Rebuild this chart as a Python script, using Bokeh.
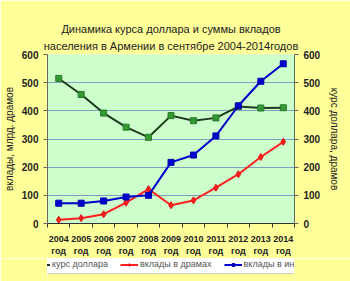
from bokeh.plotting import figure
from bokeh.layouts import column
from bokeh.models import (LinearAxis, Range1d, FixedTicker, Legend, LegendItem, Title)
from bokeh.embed import file_html
from bokeh.resources import INLINE

years = [2004, 2005, 2006, 2007, 2008, 2009, 2010, 2011, 2012, 2013, 2014]
usd_rate = [515, 458, 392, 342, 306, 383, 365, 375, 415, 410, 411]
dep_amd = [13, 19, 33, 74, 122, 65, 82, 127, 175, 236, 290]
dep_fx = [72, 72, 80, 94, 100, 217, 243, 311, 418, 505, 567]
y_ticks = [0, 100, 200, 300, 400, 500, 600]
series_names = ["курс доллара", "вклады в драмах", "вклады в инвалюте"]
title_lines = ["Динамика курса доллара и суммы вкладов",
               "населения в Армении в сентябре 2004-2014годов"]

FONT = "Liberation Sans"
YELLOW = "#FFFF99"
GREEN_BG = "#CCFFCC"
C_RATE_LINE, C_RATE_MK = "#1E3A1E", "#339933"
C_AMD = "#FF2020"
C_FX = "#0000CC"

p = figure(width=350, height=258, output_backend="svg", toolbar_location=None,
           x_range=Range1d(2003.5, 2014.5), y_range=Range1d(0, 600),
           min_border_left=47, min_border_right=56, min_border_top=54, min_border_bottom=35,
           background_fill_color=GREEN_BG, border_fill_color=YELLOW)
p.outline_line_color = None
p.title = None

# empty spacer axis between frame and titles
spacer = LinearAxis(ticker=FixedTicker(ticks=[]), axis_line_color=None,
                    major_tick_line_color=None, minor_tick_line_color=None,
                    major_tick_out=14, major_tick_in=0, minor_tick_out=0, minor_tick_in=0,
                    major_label_standoff=0, major_label_text_color=None)
p.add_layout(spacer, "above")
t2 = Title(text=title_lines[1], align="center", text_font=FONT, text_font_size="11px",
           text_color="#222222", text_font_style="normal", standoff=6)
t1 = Title(text=title_lines[0], align="center", text_font=FONT, text_font_size="11px",
           text_color="#222222", text_font_style="normal", standoff=0)
p.add_layout(t2, "above")
p.add_layout(t1, "above")

p.extra_y_ranges = {"rate": Range1d(0, 600)}

def draw(fig, mk_size):
    rn = "rate" if fig is p else "default"
    a = fig.line(years, usd_rate, y_range_name=rn, color=C_RATE_LINE, line_width=2)
    b = fig.scatter(years, usd_rate, y_range_name=rn, marker="square", size=mk_size,
                    fill_color=C_RATE_MK, line_color="#2A7A2A")
    c = fig.line(years, dep_amd, color=C_AMD, line_width=2)
    d = fig.scatter(years, dep_amd, marker="diamond", size=mk_size + 1, fill_color=C_AMD,
                    line_color="#E01010")
    e = fig.line(years, dep_fx, color=C_FX, line_width=2)
    f = fig.scatter(years, dep_fx, marker="square", size=mk_size, fill_color=C_FX,
                    line_color="#0000AA")
    return [(a, b), (c, d), (e, f)]

draw(p, 6)

# bottom x axis
xa = p.below[0]
xa.ticker = FixedTicker(ticks=years, minor_ticks=[y + 0.5 for y in [2003] + years])
xa.major_label_overrides = {y: f"{y}\nгод" for y in years}
xa.major_tick_out = 0
xa.major_tick_in = 0
xa.minor_tick_out = 4
xa.minor_tick_in = 0
xa.axis_line_color = "#333333"
xa.minor_tick_line_color = "#333333"
xa.major_label_text_font = FONT
xa.major_label_text_font_size = "9px"
xa.major_label_text_font_style = "bold"
xa.major_label_text_color = "#222222"
xa.major_label_standoff = 6

def style_y(ax, label, standoff):
    ax.ticker = FixedTicker(ticks=y_ticks)
    ax.minor_tick_line_color = None
    ax.major_tick_out = 4
    ax.major_tick_in = 0
    ax.axis_line_color = "#666666"
    ax.major_tick_line_color = "#666666"
    ax.axis_label = label
    ax.axis_label_text_font = FONT
    ax.axis_label_text_font_size = "10px"
    ax.axis_label_text_font_style = "normal"
    ax.axis_label_text_color = "#222222"
    ax.axis_label_standoff = standoff
    ax.major_label_text_font = FONT
    ax.major_label_text_font_size = "10px"
    ax.major_label_text_font_style = "bold"
    ax.major_label_text_color = "#222222"

style_y(p.left[0], "вклады, млрд. драмов", 4)
ra = LinearAxis(y_range_name="rate")
style_y(ra, "курс доллара, драмов", 6)
p.add_layout(ra, "right")

p.xgrid.grid_line_color = None
p.ygrid.ticker = FixedTicker(ticks=y_ticks)
p.ygrid.grid_line_color = "#7F9FBF"
p.ygrid.grid_line_width = 1

# legend strip: same series drawn outside its visible range, legend only
lg = figure(width=350, height=23, output_backend="svg", toolbar_location=None,
            x_range=Range1d(0, 1), y_range=Range1d(0, 1),
            x_axis_location=None, y_axis_location=None,
            min_border_left=47, min_border_right=56, min_border_top=0, min_border_bottom=0,
            background_fill_color=YELLOW, border_fill_color=YELLOW)
lg.outline_line_color = None
lg.grid.visible = False
proxies = draw(lg, 5)

legend = Legend(items=[
    LegendItem(label=series_names[i], renderers=list(proxies[i])) for i in range(3)
], orientation="horizontal", location=(-20, 7))
legend.label_text_font = FONT
legend.label_text_font_size = "9px"
legend.label_text_color = "#555555"
legend.label_height = 8
legend.glyph_width = 18
legend.glyph_height = 7
legend.spacing = 12
legend.padding = 4
legend.margin = 0
legend.label_standoff = 2
legend.border_line_color = "#999999"
legend.background_fill_color = "white"
legend.background_fill_alpha = 1
lg.add_layout(legend, "center")

layout = column(p, lg, spacing=0)
open("out.html", "w").write(file_html(layout, INLINE))
